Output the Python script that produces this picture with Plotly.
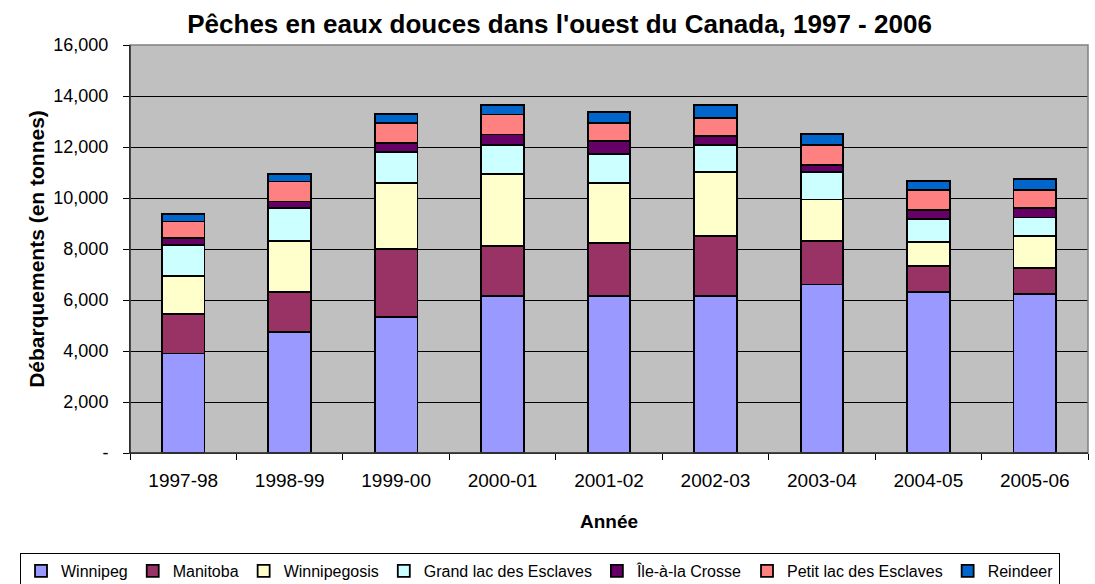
import plotly.graph_objects as go

years = ["1997-98", "1998-99", "1999-00", "2000-01", "2001-02", "2002-03", "2003-04", "2004-05", "2005-06"]

winnipeg = [3900, 4750, 5325, 6165, 6165, 6165, 6610, 6320, 6245]
manitoba = [1550, 1570, 2675, 1940, 2070, 2360, 1705, 1000, 995]
winnipegosis = [1495, 1995, 2600, 2835, 2360, 2490, 1625, 945, 1285]
grand_lac = [1205, 1285, 1205, 1130, 1130, 1050, 1075, 920, 710]
ile_a_la_crosse = [275, 260, 340, 420, 500, 365, 290, 340, 365]
petit_lac = [655, 790, 785, 785, 710, 710, 760, 785, 710]
reindeer = [300, 290, 365, 370, 445, 500, 445, 370, 445]

series = [
    ("Winnipeg", winnipeg, "#9999FF"),
    ("Manitoba", manitoba, "#993366"),
    ("Winnipegosis", winnipegosis, "#FFFFCC"),
    ("Grand lac des Esclaves", grand_lac, "#CCFFFF"),
    ("Île-à-la Crosse", ile_a_la_crosse, "#660066"),
    ("Petit lac des Esclaves", petit_lac, "#FF8080"),
    ("Reindeer", reindeer, "#0066CC"),
]

y_ticks = [0, 2000, 4000, 6000, 8000, 10000, 12000, 14000, 16000]
y_ticktext = ["-", "2,000", "4,000", "6,000", "8,000", "10,000", "12,000", "14,000", "16,000"]

FONT = "Liberation Sans, Arial, sans-serif"

fig = go.Figure()
for name, vals, color in series:
    fig.add_trace(go.Bar(
        x=years, y=vals, name=name,
        marker=dict(color=color, line=dict(color="black", width=1.8)),
    ))

fig.update_layout(
    barmode="stack",
    bargap=0.6,
    width=1095, height=584,
    margin=dict(l=130, r=7, t=45, b=131, autoexpand=False),
    paper_bgcolor="white",
    plot_bgcolor="#C0C0C0",
    font=dict(family=FONT, size=18, color="black"),
    title=dict(
        text="<b>Pêches en eaux douces dans l'ouest du Canada, 1997 - 2006</b>",
        x=0.511, xref="container", xanchor="center",
        y=0.959, yref="container", yanchor="middle",
        font=dict(family=FONT, size=26, color="black"),
    ),
    legend=dict(
        orientation="h",
        xref="paper", yref="paper",
        x=-0.1148, xanchor="left",
        y=-0.245, yanchor="top",
        bordercolor="black", borderwidth=1,
        font=dict(family=FONT, size=16),
        traceorder="normal",
        itemwidth=30,
        tracegroupgap=0,
    ),
    showlegend=True,
)

fig.update_xaxes(
    type="category",
    title=dict(text="<b>Année</b>", font=dict(family=FONT, size=19), standoff=24),
    tickfont=dict(family=FONT, size=19),
    showline=True, linecolor="black", linewidth=1,
    ticks="outside", ticklen=6, tickcolor="black",
    ticklabelstandoff=10,
    tickson="boundaries",
    showgrid=False,
)
fig.update_yaxes(
    title=dict(text="<b>Débarquements (en tonnes)</b>", font=dict(family=FONT, size=21), standoff=2),
    tickfont=dict(family=FONT, size=18),
    range=[0, 16000],
    tickvals=y_ticks, ticktext=y_ticktext,
    showline=True, linecolor="black", linewidth=1,
    ticks="outside", ticklen=6, tickcolor="black",
    ticklabelstandoff=11,
    showgrid=True, gridcolor="black", gridwidth=1,
    zeroline=False,
)

fig.add_shape(type="rect", xref="paper", yref="paper", x0=0, y0=0, x1=1, y1=1,
              line=dict(color="#808080", width=1.5), layer="above")
fig.add_shape(type="line", xref="paper", yref="paper", x0=0, y0=0, x1=0, y1=1,
              line=dict(color="black", width=1), layer="above")
fig.add_shape(type="line", xref="paper", yref="paper", x0=0, y0=0, x1=1, y1=0,
              line=dict(color="black", width=1), layer="above")

fig.write_html(
    "out.html",
    config={"displayModeBar": False},
    post_script="document.body.style.margin='0';document.body.style.overflow='hidden';",
)
